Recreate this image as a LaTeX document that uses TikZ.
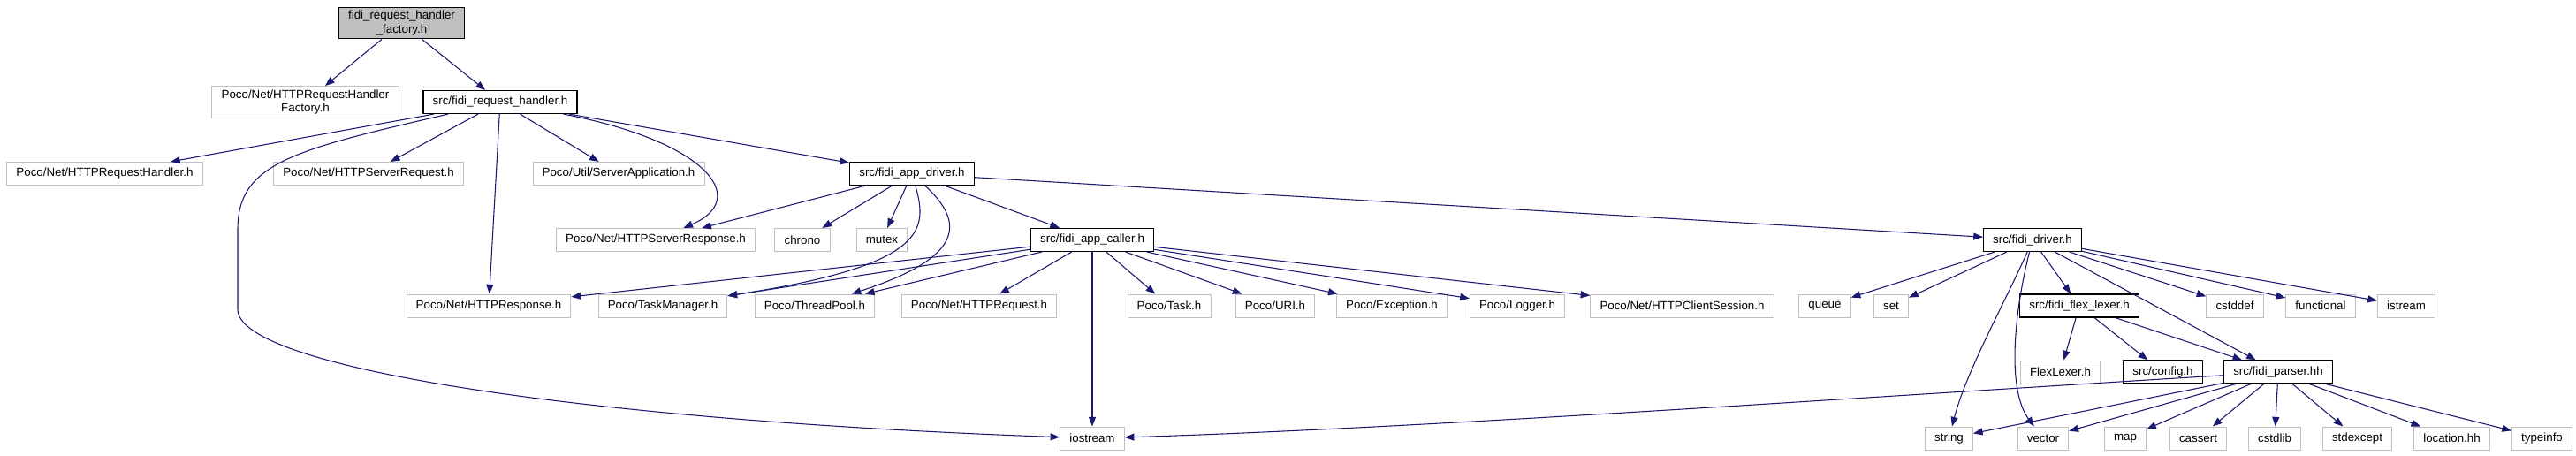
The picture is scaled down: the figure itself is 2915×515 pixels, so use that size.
\documentclass[tikz,border=0pt]{standalone}
\usepackage{fontspec}
\setmainfont{Liberation Sans}
\usetikzlibrary{arrows.meta}
\definecolor{dxedge}{HTML}{191970}
\definecolor{dxgray}{HTML}{BFBFBF}

\begin{document}
\begin{tikzpicture}[x=0.75pt,y=-0.75pt,>={Triangle[length=8pt,width=6pt]}]
    \tikzset{file/.style={fill=white,line width=0.75pt,inner xsep=8pt,inner ysep=3pt,minimum height=19.5pt,align=center,font=\fontsize{10}{11.5}\selectfont},
      extfile/.style={file,draw=dxgray},
      srcfile/.style={file,draw=black,line width=0.9pt},
      rootfile/.style={srcfile,fill=dxgray},
      inc/.style={->,draw=dxedge,line width=0.8pt}}
    \useasboundingbox (0,0) rectangle (2915,515);
    % top of the graph
    \node[rootfile] (root) at (454.5,26) {fidi\_request\_handler\\\_factory.h};
    \node[extfile] (hrhf) at (345.5,115.5) {Poco/Net/HTTPRequestHandler\\Factory.h};
    \node[srcfile] (rh) at (566,115.5) {src/fidi\_request\_handler.h};
    % second row
    \node[extfile] (hrh) at (118.5,196.5) {Poco/Net/HTTPRequestHandler.h};
    \node[extfile] (hsreq) at (417,196.5) {Poco/Net/HTTPServerRequest.h};
    \node[extfile] (sapp) at (700,196.5) {Poco/Util/ServerApplication.h};
    \node[srcfile] (ad) at (1032,196.5) {src/fidi\_app\_driver.h};
    % third row
    \node[extfile] (hsresp) at (742,271.5) {Poco/Net/HTTPServerResponse.h};
    \node[extfile] (chrono) at (908,271.5) {chrono};
    \node[extfile] (mutex) at (998,271.5) {mutex};
    \node[srcfile] (ac) at (1236,271.5) {src/fidi\_app\_caller.h};
    \node[srcfile] (fd) at (2300,271.5) {src/fidi\_driver.h};
    % fourth row
    \node[extfile] (hresp) at (553,346) {Poco/Net/HTTPResponse.h};
    \node[extfile] (tm) at (750,346) {Poco/TaskManager.h};
    \node[extfile] (tp) at (922,346) {Poco/ThreadPool.h};
    \node[extfile] (hreq) at (1108,346) {Poco/Net/HTTPRequest.h};
    \node[extfile] (task) at (1323,346) {Poco/Task.h};
    \node[extfile] (uri) at (1443,346) {Poco/URI.h};
    \node[extfile] (exc) at (1575,346) {Poco/Exception.h};
    \node[extfile] (logger) at (1717,346) {Poco/Logger.h};
    \node[extfile] (hcs) at (1903.5,346) {Poco/Net/HTTPClientSession.h};
    \node[extfile] (queue) at (2065,346) {queue};
    \node[extfile] (set) at (2140,346) {set};
    \node[srcfile] (ffl) at (2353,346) {src/fidi\_flex\_lexer.h};
    \node[extfile] (cstddef) at (2529,346) {cstddef};
    \node[extfile] (functional) at (2626,346) {functional};
    \node[extfile] (istream) at (2723,346) {istream};
    % fifth row
    \node[extfile] (flexlexer) at (2331.5,421) {FlexLexer.h};
    \node[srcfile] (config) at (2447.5,421) {src/config.h};
    \node[srcfile] (fp) at (2578,421) {src/fidi\_parser.hh};
    % bottom row
    \node[extfile] (io) at (1236,496) {iostream};
    \node[extfile] (str) at (2205.5,496) {string};
    \node[extfile] (vec) at (2312,496) {vector};
    \node[extfile] (map) at (2405,496) {map};
    \node[extfile] (cassert) at (2487.5,496) {cassert};
    \node[extfile] (cstdlib) at (2574,496) {cstdlib};
    \node[extfile] (stdexcept) at (2667.5,496) {stdexcept};
    \node[extfile] (loc) at (2774.5,496) {location.hh};
    \node[extfile] (typeinfo) at (2876.5,496) {typeinfo};

    % includes
    \draw[inc] (root) -- (hrhf);
    \draw[inc] (root) -- (rh);
    \draw[inc] (rh) -- (hrh);
    \draw[inc] (rh) -- (hsreq);
    \draw[inc] (rh) -- (sapp);
    \draw[inc] (rh) -- (ad);
    \draw[inc] (rh) .. controls (800,160) and (850,225) .. (hsresp);
    \draw[inc] (rh) -- (hresp);
    \draw[inc] (rh) .. controls (330,170) and (269,185) .. (269,260) -- (269,350) .. controls (269,415) and (650,475) .. (io);
    \draw[inc] (ad) -- (hsresp);
    \draw[inc] (ad) -- (chrono);
    \draw[inc] (ad) -- (mutex);
    \draw[inc] (ad) .. controls (1050,260) and (1050,300) .. (tm);
    \draw[inc] (ad) .. controls (1090,250) and (1095,290) .. (tp);
    \draw[inc] (ad) -- (ac);
    \draw[inc] (ad) -- (fd);
    \draw[inc] (ac) -- (hresp);
    \draw[inc] (ac) -- (tm);
    \draw[inc] (ac) -- (tp);
    \draw[inc] (ac) -- (hreq);
    \draw[inc] (ac) -- (io);
    \draw[inc] (ac) -- (task);
    \draw[inc] (ac) -- (uri);
    \draw[inc] (ac) -- (exc);
    \draw[inc] (ac) -- (logger);
    \draw[inc] (ac) -- (hcs);
    \draw[inc] (fd) -- (queue);
    \draw[inc] (fd) -- (set);
    \draw[inc] (fd) .. controls (2270,340) and (2225,420) .. (str);
    \draw[inc] (fd) .. controls (2280,350) and (2270,440) .. (vec);
    \draw[inc] (fd) -- (ffl);
    \draw[inc] (fd) -- (fp);
    \draw[inc] (fd) -- (cstddef);
    \draw[inc] (fd) -- (functional);
    \draw[inc] (fd) -- (istream);
    \draw[inc] (ffl) -- (flexlexer);
    \draw[inc] (ffl) -- (config);
    \draw[inc] (ffl) -- (fp);
    \draw[inc] (fp) .. controls (2100,450) and (1600,485) .. (io);
    \draw[inc] (fp) -- (str);
    \draw[inc] (fp) -- (vec);
    \draw[inc] (fp) -- (map);
    \draw[inc] (fp) -- (cassert);
    \draw[inc] (fp) -- (cstdlib);
    \draw[inc] (fp) -- (stdexcept);
    \draw[inc] (fp) -- (loc);
    \draw[inc] (fp) -- (typeinfo);
\end{tikzpicture}
\end{document}
